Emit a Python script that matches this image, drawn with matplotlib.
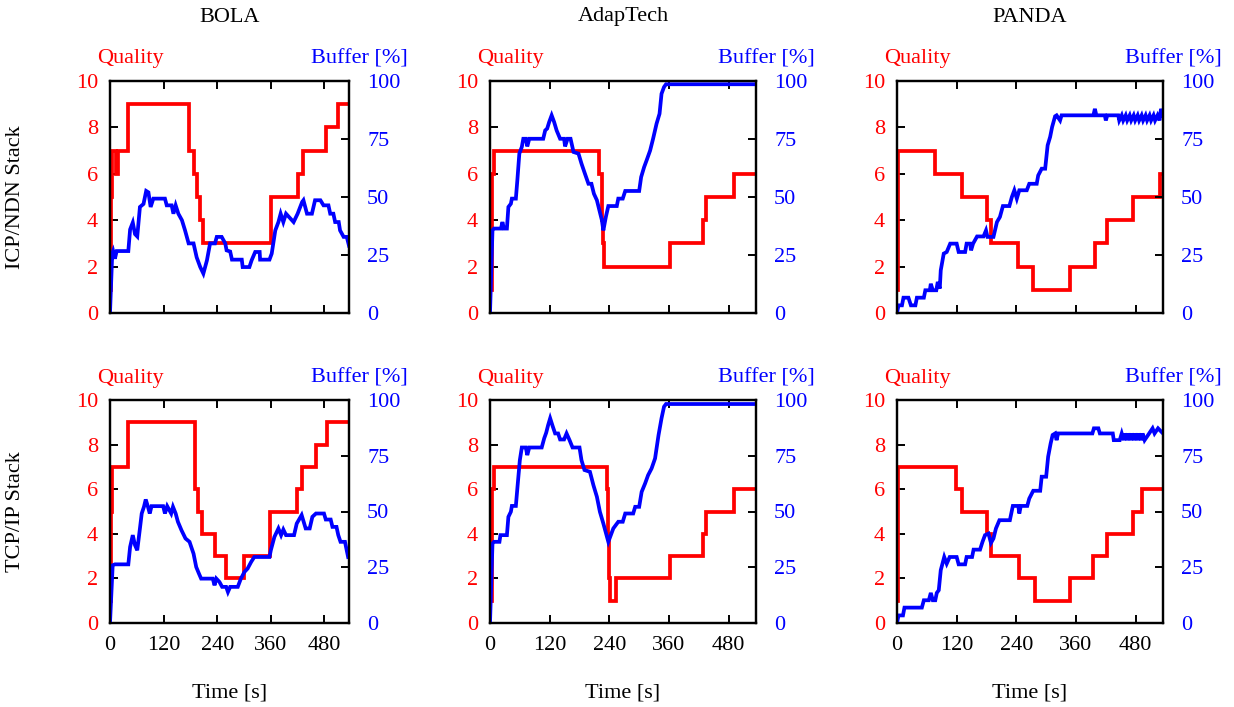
import matplotlib
matplotlib.use("Agg")
import matplotlib.pyplot as plt

plt.rcParams['font.family'] = ['Liberation Serif', 'DejaVu Serif']
plt.rcParams['font.size'] = 16

W, H = 1234, 707

algos = ["BOLA", "AdapTech", "PANDA"]
stacks = ["ICP/NDN Stack", "TCP/IP Stack"]
xticks = [0, 120, 240, 360, 480]

# ---- quality (step, post) ----
q_t = {
    (0, 0): [0, 3, 5, 14, 17, 41, 176, 188, 194, 202, 209, 361, 421, 432, 483, 510, 535],
    (0, 1): [0, 5, 8, 220, 226, 228, 230, 362, 429, 434, 491, 535],
    (0, 2): [0, 2, 77, 130, 181, 189, 244, 274, 347, 398, 423, 475, 528, 535],
    (1, 0): [0, 3, 5, 41, 190, 196, 207, 234, 260, 299, 359, 418, 429, 461, 485, 535],
    (1, 1): [0, 5, 8, 236, 238, 240, 242, 253, 363, 429, 434, 491, 535],
    (1, 2): [0, 2, 119, 130, 182, 190, 246, 278, 347, 395, 423, 475, 492, 535],
}
q_v = {
    (0, 0): [1, 5, 7, 6, 7, 9, 7, 6, 5, 4, 3, 5, 6, 7, 8, 9, 9],
    (0, 1): [1, 6, 7, 6, 4, 3, 2, 3, 4, 5, 6, 6],
    (0, 2): [1, 7, 6, 5, 4, 3, 2, 1, 2, 3, 4, 5, 6, 6],
    (1, 0): [1, 5, 7, 9, 6, 5, 4, 3, 2, 3, 5, 6, 7, 8, 9, 9],
    (1, 1): [1, 6, 7, 6, 4, 2, 1, 2, 3, 4, 5, 6, 6],
    (1, 2): [1, 7, 6, 5, 4, 3, 2, 1, 2, 3, 4, 5, 6, 6],
}

# ---- buffer [%] ----
b_t = {
    (0, 0): [0, 5, 7, 11, 15, 41, 45, 51, 56, 61, 67, 75, 81, 86, 91, 97, 123, 127, 138, 142,
             147, 153, 161, 168, 176, 187, 194, 202, 209, 217, 224, 235, 239, 250, 258, 261,
             269, 273, 295, 297, 312, 317, 325, 335, 336, 357, 362, 370, 377, 382, 388, 394,
             411, 420, 430, 433, 441, 452, 459, 471, 478, 489, 493, 500, 504, 512, 515, 523,
             530, 535],
    (0, 1): [0, 5, 8, 22, 25, 28, 34, 37, 42, 44, 52, 55, 59, 64, 67, 72, 75, 79, 107, 111,
             115, 119, 124, 129, 134, 141, 149, 151, 156, 162, 168, 178, 184, 191, 198, 204,
             209, 215, 220, 225, 228, 233, 238, 255, 258, 267, 272, 300, 304, 310, 315, 322,
             328, 335, 341, 345, 350, 354, 535],
    (0, 2): [0, 3, 10, 13, 23, 28, 37, 40, 54, 57, 66, 68, 72, 79, 82, 86, 88, 94, 100, 107,
             120, 124, 137, 140, 147, 149, 153, 161, 174, 179, 182, 194, 201, 207, 213, 226,
             231, 236, 241, 246, 261, 266, 281, 284, 291, 298, 303, 308, 312, 318, 321, 328,
             331, 395, 398, 401, 418, 420, 423, 445, 447, 452, 455, 460, 463, 468, 471, 476,
             479, 484, 487, 492, 495, 500, 503, 508, 511, 516, 519, 524, 528, 531, 535],
    (1, 0): [0, 6, 11, 41, 45, 51, 56, 61, 67, 71, 76, 80, 85, 89, 93, 119, 123, 128, 137,
             141, 147, 152, 160, 169, 178, 187, 193, 199, 204, 230, 234, 238, 245, 251, 260,
             264, 269, 286, 293, 301, 308, 316, 323, 357, 360, 368, 377, 383, 388, 394, 412,
             418, 429, 438, 447, 453, 461, 479, 483, 494, 498, 507, 511, 516, 526, 533],
    (1, 1): [0, 5, 8, 19, 21, 34, 37, 42, 44, 52, 55, 60, 64, 72, 75, 79, 104, 109, 113, 117,
             121, 126, 131, 137, 141, 149, 154, 160, 166, 180, 184, 190, 201, 208, 215, 221,
             228, 238, 243, 248, 258, 267, 272, 288, 292, 300, 305, 312, 318, 325, 332, 339,
             345, 350, 354, 535],
    (1, 2): [0, 3, 12, 15, 50, 54, 64, 68, 72, 77, 80, 84, 88, 95, 100, 106, 120, 124, 137,
             140, 151, 154, 167, 172, 177, 184, 189, 194, 199, 206, 227, 233, 244, 246, 249,
             262, 266, 274, 288, 291, 300, 304, 309, 313, 318, 321, 324, 393, 396, 405, 408,
             434, 436, 448, 452, 456, 459, 463, 466, 470, 473, 477, 480, 484, 487, 491, 494,
             498, 505, 514, 518, 525, 535],
}
b_v = {
    (0, 0): [0, 25.6, 26.7, 23.4, 26.7, 26.7, 36, 39, 34, 33, 45.7, 47, 52.6, 52, 45.7, 49.3,
             49.3, 46.4, 46.4, 42.8, 46.4, 42.8, 40, 35.6, 30, 30, 24, 19.8, 17, 22.7, 30, 30,
             32.8, 32.8, 30, 27, 26.5, 23, 23, 19.8, 19.8, 22.7, 26.3, 26.3, 23, 23, 25.6,
             35.6, 39.2, 42.8, 39.2, 42.8, 39.2, 42.8, 47.8, 48.6, 42.8, 42.8, 48.6, 48.6,
             46.4, 46.4, 42.8, 42.8, 39.2, 39.2, 35.6, 32.8, 32.8, 29],
    (0, 1): [0, 35.6, 36.4, 36.4, 39.2, 36.4, 36.4, 45.7, 47.1, 49.3, 49.3, 57.2, 68.7, 71.6,
             75.1, 75.1, 71.8, 75.1, 75.1, 78.7, 79.5, 82.3, 85.2, 82.3, 78.7, 75.1, 75.1,
             71.8, 75.1, 75.1, 69.4, 68.7, 64.4, 60, 55.7, 55.7, 51.4, 48.6, 44.3, 40, 35.6,
             41.4, 46.1, 46.1, 49.3, 49.3, 52.6, 52.6, 58.6, 62.9, 65.8, 70, 75.1, 81.6, 85.9,
             94.5, 97.4, 98.6, 98.6],
    (0, 2): [0, 3.3, 3.3, 6.6, 6.6, 3.3, 3.3, 6.6, 6.6, 9.8, 9.8, 12.6, 9.8, 9.8, 13.4, 10.5,
             18.4, 25.6, 26.3, 29.9, 29.9, 26.3, 26.3, 29.9, 29.9, 27, 29.9, 33, 33, 35.6,
             32.8, 32.8, 39.2, 41.4, 46.1, 46.1, 50, 52.9, 49.3, 52.9, 52.9, 55.7, 55.7, 59.3,
             62.2, 62.2, 72.3, 75.9, 80.2, 84.8, 85.2, 83, 85.2, 85.2, 88, 85.2, 85.2, 83,
             85.2, 85.2, 83, 85.2, 83, 85.2, 83, 85.2, 83, 85.2, 83, 85.2, 83, 85.2, 83, 85.2,
             83, 85.2, 83, 85.2, 83, 85.2, 83, 88, 85.2],
    (1, 0): [0, 25.9, 26.3, 26.3, 34.1, 39.4, 34.9, 32.6, 42.4, 49.1, 52.1, 55.4, 52.1, 49.1,
             52.4, 52.4, 49.1, 52.4, 49.1, 52.1, 49.1, 45.4, 41.6, 37.9, 36.4, 31.1, 25.1,
             22.2, 19.9, 19.9, 16.9, 19.9, 18.4, 16.2, 16.2, 13.9, 16.2, 16.2, 19.9, 22.9,
             24.4, 27.4, 29.6, 29.6, 32.6, 38.6, 42.4, 39.4, 41.9, 39.4, 39.4, 44.6, 48.4,
             42.4, 42.4, 47.6, 49.1, 49.1, 46.4, 46.4, 43.1, 43.1, 39.4, 36.4, 36.4, 29.6],
    (1, 1): [0, 35.6, 36.4, 36.4, 39.4, 39.4, 47.6, 49.9, 52.5, 52.5, 60.3, 73, 78.7, 78.7,
             75.3, 78.7, 78.7, 82.8, 85.3, 88.8, 91.8, 88.3, 85, 85, 82.3, 82.3, 85, 82,
             78.7, 78.7, 73, 68.6, 67.8, 61.8, 56.6, 49.9, 44.6, 36.4, 39.4, 42.4, 45.4, 45.4,
             49.1, 49.1, 52.1, 52.1, 58.8, 62.6, 66.3, 69.3, 73.8, 84.3, 91.8, 97, 98.2, 98.2],
    (1, 2): [0, 3.4, 3.4, 6.9, 6.9, 10.2, 10.2, 13.5, 10.2, 10.2, 13.5, 14.7, 23.7, 29.6,
             26.6, 29.6, 29.6, 26.3, 26.3, 29.6, 29.6, 32.9, 32.9, 36.4, 39.4, 40.1, 35.9,
             37.9, 42.4, 46.1, 46.1, 52.5, 52.5, 49.1, 52.5, 52.5, 55.8, 59.3, 59.3, 65.6,
             65.6, 74.6, 80.5, 84.3, 85, 82, 85, 85, 87.3, 87.3, 85, 85, 82, 82, 85, 82, 85,
             82, 85, 82, 85, 82, 85, 82, 85, 82, 85, 82, 84.3, 87.3, 85, 87.3, 85],
}

# axes boxes in pixels: left, top, right, bottom
cols_px = [(110, 349), (490, 756), (897, 1163)]
rows_px = [(81, 313), (400, 623)]

RED = "#ff0000"
BLUE = "#0000ff"


def fx(x):
    return x / W


def fy(y):
    return 1 - y / H


fig = plt.figure(figsize=(W / 100, H / 100), dpi=100)

for r, (top, bot) in enumerate(rows_px):
    for c, (lft, rgt) in enumerate(cols_px):
        ax = fig.add_axes([fx(lft), fy(bot), (rgt - lft) / W, (bot - top) / H])
        ax2 = ax.twinx()
        key = (r, c)

        ax.step(q_t[key], q_v[key], where="post", color=RED, lw=2.7, solid_joinstyle="miter")
        ax2.plot(b_t[key], b_v[key], color=BLUE, lw=2.7, solid_joinstyle="miter")

        ax.set_xlim(0, 535)
        ax.set_ylim(0, 10)
        ax2.set_ylim(0, 100)
        ax.set_xticks(xticks)
        ax.set_yticks([0, 2, 4, 6, 8, 10])
        ax2.set_yticks([0, 25, 50, 75, 100])

        ax.tick_params(axis="x", direction="in", length=6, width=1.4, top=True, bottom=True,
                       pad=9, labelsize=16)
        ax.tick_params(axis="y", direction="in", length=6, width=1.4, labelcolor=RED,
                       pad=8.5, labelsize=16)
        ax2.tick_params(axis="y", direction="in", length=6, width=1.4, labelcolor=BLUE,
                        pad=13, labelsize=16)
        if r == 0:
            ax.tick_params(axis="x", labelbottom=False)
        for a in (ax, ax2):
            for s in a.spines.values():
                s.set_linewidth(1.6)

        fig.text(fx(lft - 13), fy(top - 22), "Quality", color=RED, ha="left", va="center")
        fig.text(fx(rgt + 59), fy(top - 22), "Buffer [%]", color=BLUE, ha="right", va="center")

        if r == 0:
            fig.text(fx((lft + rgt) / 2), fy(17), algos[c], ha="center", va="center")
        else:
            fig.text(fx((lft + rgt) / 2), fy(693), "Time [s]", ha="center", va="center")

    fig.text(fx(16), fy((top + bot) / 2), stacks[r], rotation=90, ha="center", va="center")

plt.savefig("out.png", dpi=100)
